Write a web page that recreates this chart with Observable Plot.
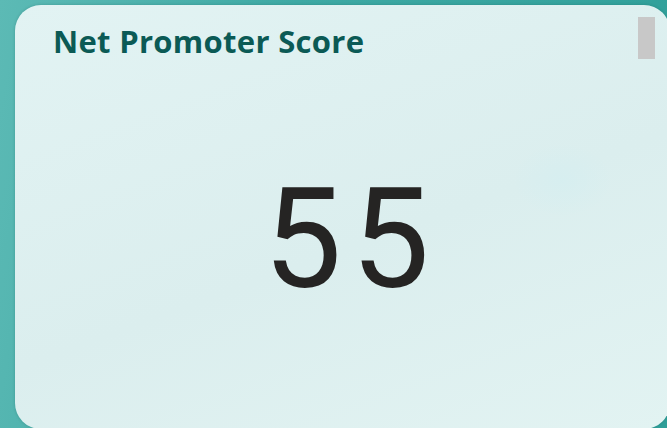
<!DOCTYPE html>
<html>
<head>
<meta charset="utf-8">
<script src="https://cdn.jsdelivr.net/npm/d3@7"></script>
<script src="https://cdn.jsdelivr.net/npm/@observablehq/plot@0.6"></script>
<style>
  html, body { margin: 0; padding: 0; width: 667px; height: 428px; overflow: hidden; }
  body { background: linear-gradient(100deg, #5cbab5 0%, #3ea9a4 40%, #2f9f99 100%); position: relative; }
  #card {
    position: absolute; left: 15px; top: 5px; width: 655px; height: 424px;
    border-radius: 26px; overflow: hidden;
    background: linear-gradient(160deg, #e2f3f3 0%, #dbeeee 55%, #e2f3f2 100%);
    box-shadow: 0 0 3px rgba(0,60,60,0.25);
  }
  #glow {
    position: absolute; left: 500px; top: 140px; width: 95px; height: 70px; border-radius: 50%;
    background: radial-gradient(ellipse at center, rgba(214,238,240,0.9) 0%, rgba(214,238,240,0) 75%);
  }
  #title {
    position: absolute; left: 38px; top: 15px; margin: 0;
    font-family: "Open Sans", sans-serif; font-weight: 700; font-size: 31px;
    letter-spacing: 0.3px;
    color: #0b5a55; white-space: nowrap;
  }
  #scroll { position: absolute; left: 623px; top: 12px; width: 17px; height: 42px; background: #c8c8c8; }
  #chart { position: absolute; left: 0; top: 0; }
</style>
</head>
<body>
<div id="card">
  <div id="glow"></div>
  <div id="title">Net Promoter Score</div>
  <div id="scroll"></div>
  <div id="chart"></div>
</div>
<script>
const kpiLabels = ["Net Promoter Score"];
const kpiValues = [55];

const data = kpiValues.map((v, i) => ({label: kpiLabels[i], value: v}));

const chart = Plot.plot({
  width: 655,
  height: 424,
  margin: 0,
  style: {background: "transparent", overflow: "visible", letterSpacing: "9px"},
  marks: [
    Plot.text(data, {
      frameAnchor: "middle",
      text: d => String(d.value),
      dx: 8,
      dy: 25,
      fontSize: 140,
      fontFamily: "Roboto, sans-serif",
      fill: "#252423"
    })
  ]
});
document.getElementById("chart").appendChild(chart);
</script>
</body>
</html>
